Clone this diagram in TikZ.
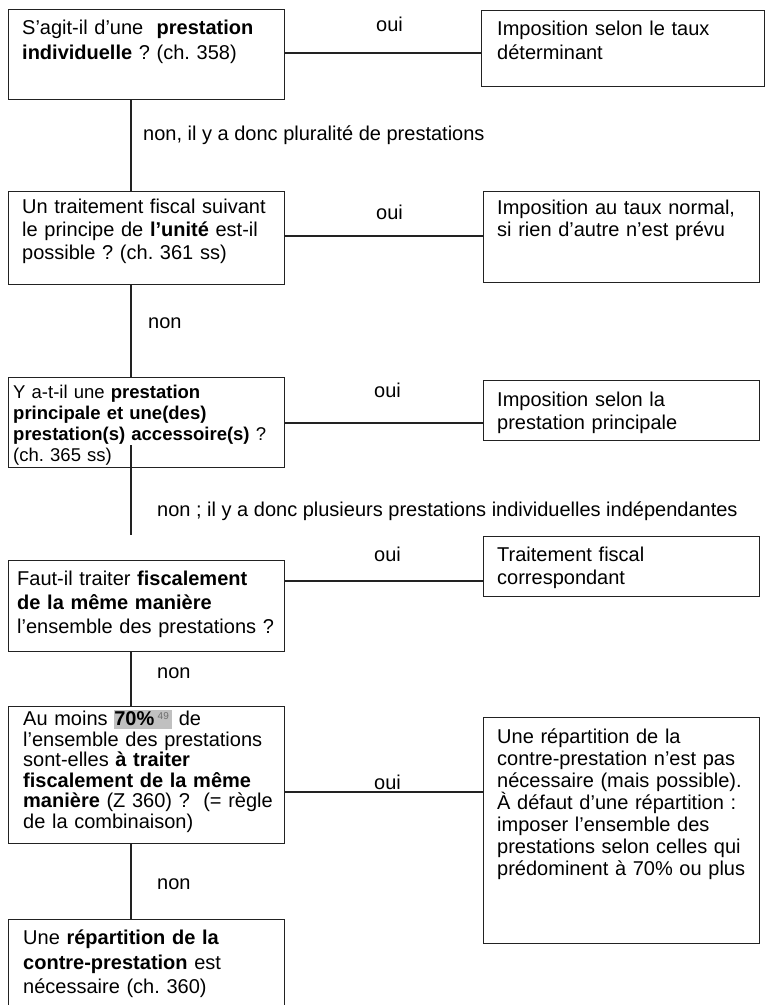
\documentclass[tikz,border=0pt]{standalone}
\usepackage{fontspec}
\setmainfont{Liberation Sans}
\usepackage{xcolor}
\definecolor{hlgray}{HTML}{C0C0C0}
\definecolor{supgray}{HTML}{6E6E6E}
\definecolor{linecol}{HTML}{222222}
\frenchspacing
\begin{document}
\begin{tikzpicture}[x=1pt,y=-1pt,
  box/.style={draw=linecol, line width=1.1pt, rectangle, inner sep=0pt, anchor=north west},
  conn/.style={draw=linecol, line width=1.1pt},
  txt/.style={anchor=base west, inner sep=0pt, align=left, text width=#1},
  lbl/.style={anchor=base west, inner sep=0pt, font=\fontsize{20}{24}\selectfont}]
\useasboundingbox (0,0) rectangle (765,1005);
\clip (0,0) rectangle (765,1005);
\fill[white] (0,0) rectangle (765,1005);
% boxes
\node[box, minimum width=276pt, minimum height=90pt]  (b1) at (8,9) {};
\node[box, minimum width=283pt, minimum height=76pt]  (r1) at (481,10) {};
\node[box, minimum width=276pt, minimum height=93pt]  (b2) at (8,191) {};
\node[box, minimum width=276pt, minimum height=91pt]  (r2) at (483,191) {};
\node[box, minimum width=276pt, minimum height=90pt]  (b3) at (8,377) {};
\node[box, minimum width=276pt, minimum height=60pt]  (r3) at (483,380) {};
\node[box, minimum width=276pt, minimum height=91pt]  (b4) at (8,560) {};
\node[box, minimum width=276pt, minimum height=60pt]  (r4) at (483,536) {};
\node[box, minimum width=276pt, minimum height=137pt] (b5) at (8,706) {};
\node[box, minimum width=276pt, minimum height=226pt] (r5) at (483,717) {};
\node[box, minimum width=276pt, minimum height=110pt] (b6) at (8,919) {};
% texts
\node[txt=270pt, font=\fontsize{20}{25}\selectfont] (t1) at (22,34.5)
  {S’agit-il d’une\ \ \textbf{prestation}\\\textbf{individuelle} ? (ch. 358)};
\node[txt=265pt, font=\fontsize{20}{24}\selectfont] (tr1) at (497,35.5)
  {Imposition selon le taux\\déterminant};
\node[txt=270pt, font=\fontsize{20}{23}\selectfont] (t2) at (22,213.5)
  {Un traitement fiscal suivant\\le principe de \textbf{l’unité} est-il\\possible ? (ch. 361 ss)};
\node[txt=265pt, font=\fontsize{20}{22}\selectfont] (tr2) at (497,214.5)
  {Imposition au taux normal,\\si rien d’autre n’est prévu};
\node[txt=270pt, font=\fontsize{18.5}{21.3}\selectfont] (t3) at (13,398)
  {Y a-t-il une \textbf{prestation}\\\textbf{principale et une(des)}\\\textbf{prestation(s) accessoire(s)} ?\\(ch. 365 ss)};
\node[txt=265pt, font=\fontsize{20}{23}\selectfont] (tr3) at (497,406.5)
  {Imposition selon la\\prestation principale};
\node[txt=270pt, font=\fontsize{20}{24}\selectfont] (t4) at (17,585.5)
  {Faut-il traiter \textbf{fiscalement}\\\textbf{de la même manière}\\l’ensemble des prestations ?};
\node[txt=265pt, font=\fontsize{20}{23}\selectfont] (tr4) at (497,561.5)
  {Traitement fiscal\\correspondant};
\node[txt=270pt, font=\fontsize{20}{20.5}\selectfont] (t5) at (23,725.5)
  {Au moins {\setlength{\fboxsep}{0pt}\colorbox{hlgray}{\rule[-3.5pt]{0pt}{19pt}\textbf{70\%}\,\raisebox{6pt}{\color{supgray}\fontsize{10}{10}\selectfont 49}\,}} de\\l’ensemble des prestations\\sont-elles \textbf{à traiter}\\\textbf{fiscalement de la même}\\\textbf{manière} (Z 360) ?\ \ (= règle\\de la combinaison)};
\node[txt=265pt, font=\fontsize{20}{22}\selectfont] (tr5) at (497,743.5)
  {Une répartition de la\\contre-prestation n’est pas\\nécessaire (mais possible).\\À défaut d’une répartition :\\imposer l’ensemble des\\prestations selon celles qui\\prédominent à 70\% ou plus};
\node[txt=270pt, font=\fontsize{20}{24.5}\selectfont] (t6) at (23,944.5)
  {Une \textbf{répartition de la}\\\textbf{contre-prestation} est\\nécessaire (ch. 360)};
% labels
\node[lbl] (o1) at (376,31.5) {oui};
\node[lbl] (o2) at (376,219.5) {oui};
\node[lbl] (o3) at (374,397.5) {oui};
\node[lbl] (o4) at (374,561.5) {oui};
\node[lbl] (o5) at (374,789.5) {oui};
\node[lbl] (n1) at (143,140) {non, il y a donc pluralité de prestations};
\node[lbl] (n2) at (148,328.5) {non};
\node[lbl] (n3) at (157,516) {non ; il y a donc plusieurs prestations individuelles indépendantes};
\node[lbl] (n4) at (157,678) {non};
\node[lbl] (n5) at (157,889) {non};
% coordinates
\coordinate (vx) at (131,0);
\coordinate (y1) at (0,53);
\coordinate (y2) at (0,236);
\coordinate (y3) at (0,423);
\coordinate (y4) at (0,581);
\coordinate (y5) at (0,792);
\coordinate (v3a) at (131,445);
\coordinate (v3b) at (131,535);
% horizontal connectors
\draw[conn] (b1.east |- y1) -- (r1.west |- y1);
\draw[conn] (b2.east |- y2) -- (r2.west |- y2);
\draw[conn] (b3.east |- y3) -- (r3.west |- y3);
\draw[conn] (b4.east |- y4) -- (r4.west |- y4);
\draw[conn] (b5.east |- y5) -- (r5.west |- y5);
% vertical connectors
\draw[conn] (b1.south -| vx) -- (b2.north -| vx);
\draw[conn] (b2.south -| vx) -- (b3.north -| vx);
\draw[conn] (v3a) -- (v3b);
\draw[conn] (b4.south -| vx) -- (b5.north -| vx);
\draw[conn] (b5.south -| vx) -- (b6.north -| vx);
\end{tikzpicture}
\end{document}
